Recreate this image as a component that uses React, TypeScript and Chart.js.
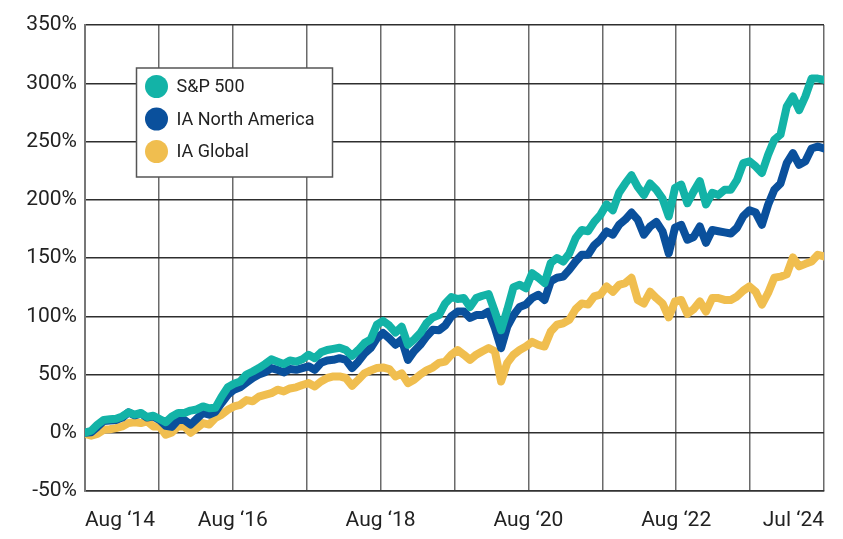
import React, { useEffect, useRef } from 'react';
import { Chart, registerables } from 'chart.js';

Chart.register(...registerables);

// Monthly cumulative returns (%), Aug 2014 .. Jul 2024
const sp500 = [
  0, 1.7, 7, 11, 11.5, 12, 14, 17.5, 15.5, 17,
  13.5, 14.6, 11.8, 9, 14, 17, 17, 19, 20, 22.6,
  21, 21.5, 31, 39, 42, 44, 50, 52.6, 55.5, 59,
  63, 61, 59, 62, 61, 63, 67, 64, 69, 71,
  72, 73, 71, 66, 71, 77, 80, 92.7, 96, 92,
  86, 91, 75.5, 80, 85.6, 94, 99, 101, 111, 116.5,
  114.8, 115.6, 108, 115.6, 117.6, 119, 104, 88, 105.6, 125,
  127, 124, 137, 133, 128.5, 145.7, 150, 147, 154, 167,
  174, 173, 181, 187, 196, 191, 206, 214, 221, 211,
  204, 214, 208.6, 201, 185.7, 210, 213, 197, 207, 216,
  196, 206, 204, 208.6, 208.6, 217, 231.5, 233, 228.6, 223,
  238.6, 251.5, 256, 280, 288.7, 277, 288.7, 304, 304, 303,
];

const iaNorthAmerica = [
  0, 0.5, 5, 10, 10.5, 11, 13, 17.5, 15, 16.5,
  13, 14, 11, 6, 5, 11, 11, 7, 12, 17,
  15.5, 18, 25.5, 32.6, 37, 39, 43, 47, 50, 52,
  55.5, 54, 51.8, 54.7, 54, 55.5, 57, 54, 60, 62,
  62.6, 64, 62.6, 55.5, 61, 68, 72.7, 81, 85.6, 81,
  75.5, 80, 62.6, 70, 75.5, 82.7, 88.4, 88, 92, 100,
  104, 104, 98.5, 101, 101, 104, 90, 72.7, 91, 101,
  108, 110, 115.6, 118.5, 114, 130, 133, 134, 140, 147,
  152.8, 152.8, 161, 165.7, 172.8, 170, 178.5, 183, 189, 183,
  170, 177, 181, 172.8, 154, 176, 178.5, 165.7, 168, 177,
  163, 174, 173, 172, 171, 176, 186, 191, 189, 178.5,
  195.7, 208.6, 214, 231.5, 240, 230, 233, 244, 245.7, 244,
];

const iaGlobal = [
  -1, -2.5, -1, 2.5, 3, 4, 5.4, 8.3, 9, 8.3,
  9.7, 5.4, 5.4, -1.7, 0.3, 5.4, 5.4, 0, 4, 8.3,
  7, 12.6, 15.5, 19.7, 22.6, 24, 28, 27, 31, 32.5,
  34, 37, 35.5, 38, 39, 41, 42.6, 39.7, 44, 47,
  48.3, 48.3, 47, 40.3, 45.5, 51, 53.5, 55.5, 56, 54.7,
  48.3, 51, 42.6, 45.5, 50, 53.5, 56, 60, 61, 67,
  71, 67, 62.6, 67, 70, 72.7, 70, 44, 60, 67,
  71, 74, 78, 75.5, 74, 87, 92.7, 94, 97, 106,
  111, 110, 117, 118.5, 125.6, 121, 127, 128.5, 133, 114,
  111, 121, 115.6, 111, 99, 112.7, 114, 102, 106, 112.7,
  104, 115.6, 115.6, 114, 114, 117, 122, 125.6, 121, 110,
  120, 133, 134, 136, 150.5, 142.8, 145, 147, 152.8, 151.3,
];

const seriesNames = ['S&P 500', 'IA North America', 'IA Global'];
const seriesColors = ['#13B3A7', '#0A509C', '#F0BE4F'];
const xTickLabels = ['Aug \u201814', 'Aug \u201816', 'Aug \u201818', 'Aug \u201820', 'Aug \u201822', 'Jul \u201824'];
const yMin = -50;
const yMax = 350;
const yStep = 50;

export default function App() {
  const ref = useRef<HTMLCanvasElement>(null);

  useEffect(() => {
    document.body.style.margin = '0';
    const canvas = ref.current;
    if (!canvas) return;

    const lastIndex = sp500.length - 1;
    const gridCount = 10;

    const boxLegend = {
      id: 'boxLegend',
      afterDraw(chart: any) {
        const { ctx, chartArea } = chart;
        const x = chartArea.left + 51.5;
        const y = chartArea.top + 43;
        const w = 196;
        const h = 109;
        ctx.save();
        ctx.fillStyle = '#ffffff';
        ctx.fillRect(x, y, w, h);
        ctx.strokeStyle = '#555555';
        ctx.lineWidth = 1.5;
        ctx.strokeRect(x, y, w, h);
        chart.data.datasets.forEach((ds: any, i: number) => {
          const cy = y + 18.5 + i * 32.5;
          ctx.beginPath();
          ctx.arc(x + 20, cy, 11.5, 0, Math.PI * 2);
          ctx.fillStyle = ds.borderColor;
          ctx.fill();
          ctx.fillStyle = '#222222';
          ctx.font = '18px Roboto';
          ctx.textBaseline = 'middle';
          ctx.textAlign = 'left';
          ctx.fillText(ds.label, x + 40, cy + 1);
        });
        ctx.restore();
      },
    };

    const series = [sp500, iaNorthAmerica, iaGlobal];

    const chart = new Chart(canvas, {
      type: 'line',
      data: {
        datasets: series.map((vals, i) => ({
          label: seriesNames[i],
          data: vals.map((v, m) => ({ x: m, y: v })),
          borderColor: seriesColors[i],
          backgroundColor: seriesColors[i],
          borderWidth: 8,
          pointRadius: 0,
          tension: 0,
          borderJoinStyle: 'round',
          borderCapStyle: 'round',
        })),
      },
      options: {
        animation: false,
        responsive: false,
        devicePixelRatio: 1,
        layout: { padding: { top: 25, right: 19, left: 0, bottom: 0 } },
        plugins: {
          legend: { display: false },
          tooltip: { enabled: false },
        },
        scales: {
          x: {
            type: 'linear',
            min: 0,
            max: lastIndex,
            afterBuildTicks: (scale: any) => {
              const t = [];
              for (let i = 0; i <= gridCount; i++) t.push({ value: (lastIndex * i) / gridCount });
              scale.ticks = t;
            },
            afterFit: (scale: any) => {
              scale.height = 48;
            },
            grid: { color: '#6a6a6a', lineWidth: 1.5, drawTicks: false },
            border: { display: true, color: '#333333', width: 1.5 },
            ticks: {
              autoSkip: false,
              maxRotation: 0,
              align: 'inner',
              padding: 17,
              color: '#222222',
              font: { family: 'Roboto', size: 21 },
              callback: (_v: any, index: number) => (index % 2 === 0 ? xTickLabels[index / 2] : ''),
            },
          },
          y: {
            min: yMin,
            max: yMax,
            afterFit: (scale: any) => {
              scale.width = 85;
            },
            grid: { color: '#2e2e2e', lineWidth: 1.5, drawTicks: false },
            border: { display: true, color: '#777777', width: 2 },
            ticks: {
              stepSize: yStep,
              padding: 8,
              color: '#222222',
              font: { family: 'Roboto', size: 21 },
              callback: (v: any) => `${v}%`,
            },
          },
        },
      },
      plugins: [boxLegend],
    } as any);

    return () => chart.destroy();
  }, []);

  return (
    <div style={{ width: 843, height: 539, background: '#fff' }}>
      <canvas ref={ref} width={843} height={539} />
    </div>
  );
}
